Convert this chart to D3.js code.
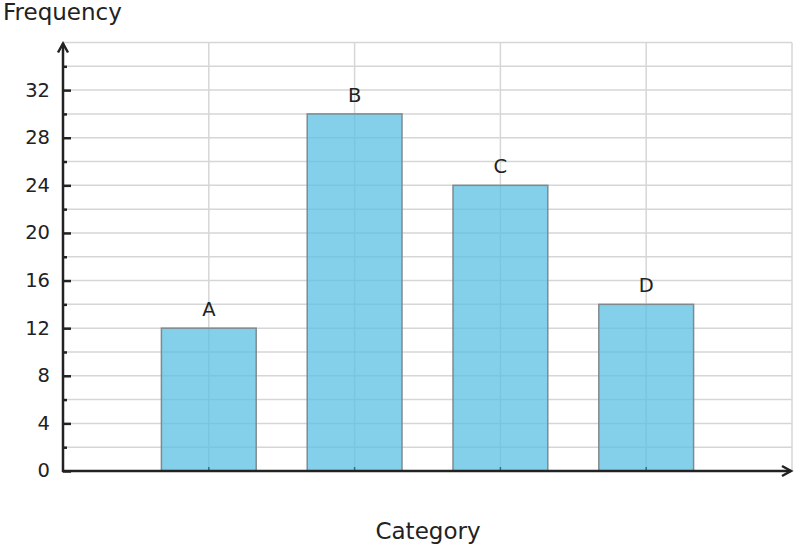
<!DOCTYPE html>
<html>
<head>
<meta charset="utf-8">
<script src="https://d3js.org/d3.v7.min.js"></script>
<style>
  body { margin: 0; background: #fff; }
  text { font-family: "DejaVu Sans", sans-serif; fill: #222; }
</style>
</head>
<body>
<script>
  var categories = ["A", "B", "C", "D"];
  var frequency = [12, 30, 24, 14];
  var yTicks = [0, 4, 8, 12, 16, 20, 24, 28, 32];

  var width = 796, height = 548;
  var x0 = 63, x1 = 792, y0 = 471, y1 = 42.5;

  var svg = d3.select("body").append("svg")
      .attr("width", width)
      .attr("height", height);

  // categories sit at 1..4 on a 0..5 axis
  var x = d3.scaleLinear().domain([0, 5]).range([x0, x1]);
  var y = d3.scaleLinear().domain([0, 36]).range([y0, y1]);
  var barW = 0.65;

  var grid = svg.append("g").attr("stroke", "#d6d6d6").attr("stroke-width", 1.5);
  grid.selectAll(".h").data(d3.range(2, 37, 2)).enter().append("line")
      .attr("x1", x0).attr("x2", x1)
      .attr("y1", function(d){ return y(d); }).attr("y2", function(d){ return y(d); });
  grid.selectAll(".v").data(d3.range(1, 6)).enter().append("line")
      .attr("y1", y0).attr("y2", y1)
      .attr("x1", function(d){ return x(d); }).attr("x2", function(d){ return x(d); });

  svg.selectAll("rect.bar").data(frequency).enter().append("rect")
      .attr("class", "bar")
      .attr("x", function(d, i){ return x(i + 1 - barW / 2); })
      .attr("width", x(barW) - x(0))
      .attr("y", function(d){ return y(d); })
      .attr("height", function(d){ return y0 - y(d); })
      .attr("fill", "#5bc0e3")
      .attr("fill-opacity", 0.75)
      .attr("stroke", "#808a8e")
      .attr("stroke-width", 1.5);

  svg.selectAll("text.lbl").data(frequency).enter().append("text")
      .attr("class", "lbl")
      .attr("x", function(d, i){ return x(i + 1); })
      .attr("y", function(d){ return y(d) - 12; })
      .attr("text-anchor", "middle")
      .attr("font-size", 19.5)
      .text(function(d, i){ return categories[i]; });

  // small ticks at category positions on the x axis
  svg.selectAll("line.xt").data(categories).enter().append("line")
      .attr("x1", function(d, i){ return x(i + 1); }).attr("x2", function(d, i){ return x(i + 1); })
      .attr("y1", y0).attr("y2", y0 - 4)
      .attr("stroke", "#3a6f85").attr("stroke-width", 1.5);

  // y axis ticks, major every 4, minor every 2
  var yAxis = d3.axisRight(y).tickValues(yTicks).tickSize(8).tickFormat("");
  svg.append("g").attr("transform", "translate(" + x0 + ",0)").call(yAxis)
      .call(function(g){ g.select(".domain").remove(); })
      .selectAll("line").attr("stroke", "#222").attr("stroke-width", 2.5);
  svg.append("g").attr("transform", "translate(" + x0 + ",0)")
      .call(d3.axisRight(y).tickValues(d3.range(2, 36, 4)).tickSize(4).tickFormat(""))
      .call(function(g){ g.select(".domain").remove(); })
      .selectAll("line").attr("stroke", "#222").attr("stroke-width", 2.5);

  svg.selectAll("text.yl").data(yTicks).enter().append("text")
      .attr("class", "yl")
      .attr("x", 50)
      .attr("y", function(d){ return y(d); })
      .attr("dy", "0.33em")
      .attr("text-anchor", "end")
      .attr("font-size", 19.5)
      .text(function(d){ return d; });

  // axes with arrow heads
  var ax = svg.append("g").attr("stroke", "#222").attr("stroke-width", 2.5).attr("fill", "none");
  ax.append("line").attr("x1", x0).attr("x2", x0).attr("y1", y0 + 1).attr("y2", y1 + 1);
  ax.append("line").attr("x1", x0 - 1).attr("x2", x1 - 1).attr("y1", y0).attr("y2", y0);
  ax.append("path").attr("d", "M" + (x0 - 5) + "," + (y1 + 10) + "L" + x0 + "," + (y1 + 1) + "L" + (x0 + 5) + "," + (y1 + 10));
  ax.append("path").attr("d", "M" + (x1 - 10) + "," + (y0 - 5) + "L" + (x1 - 1) + "," + y0 + "L" + (x1 - 10) + "," + (y0 + 5));

  svg.append("text").attr("x", 3).attr("y", 20).attr("font-size", 23).text("Frequency");
  svg.append("text").attr("x", 428).attr("y", 539).attr("text-anchor", "middle")
      .attr("font-size", 23).text("Category");
</script>
</body>
</html>
